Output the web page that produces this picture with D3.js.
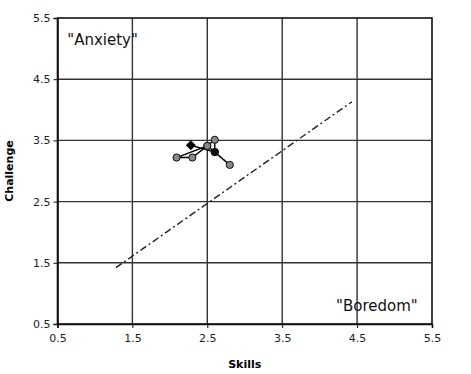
<!DOCTYPE html>
<html>
<head>
<meta charset="utf-8">
<script src="https://cdn.jsdelivr.net/npm/d3@7.9.0/dist/d3.min.js"></script>
<style>
  body { margin: 0; background: #fff; }
  text { font-family: "DejaVu Sans", Verdana, sans-serif; }
</style>
</head>
<body>
<div id="chart"></div>
<script>
const width = 471;
const height = 374;
const margin = { top: 18, right: 39, bottom: 50, left: 57.5 };

const ticks = [0.5, 1.5, 2.5, 3.5, 4.5, 5.5];

// trajectory of the session (skills, challenge)
const pathSkills = [2.28, 2.6, 2.8, 2.5, 2.09, 2.3, 2.5, 2.6, 2.6];
const pathChallenge = [3.42, 3.31, 3.1, 3.41, 3.22, 3.22, 3.41, 3.51, 3.31];

// trend line ends
const trendSkills = [1.28, 4.43];
const trendChallenge = [1.42, 4.13];

const labels = [
  { text: '"Anxiety"', x: 0.63, y: 5.06, anchor: 'start' },
  { text: '"Boredom"', x: 5.31, y: 0.72, anchor: 'end' }
];

const svg = d3.select("#chart")
  .append("svg")
  .attr("width", width)
  .attr("height", height);

const xScale = d3.scaleLinear()
  .domain([0.5, 5.5])
  .range([margin.left, width - margin.right]);

const yScale = d3.scaleLinear()
  .domain([0.5, 5.5])
  .range([height - margin.bottom, margin.top]);

// grid
svg.append("g")
  .selectAll("line.v")
  .data(ticks.slice(1, -1))
  .join("line")
  .attr("x1", d => xScale(d)).attr("x2", d => xScale(d))
  .attr("y1", yScale(5.5)).attr("y2", yScale(0.5))
  .attr("stroke", "#333").attr("stroke-width", 1.4);

svg.append("g")
  .selectAll("line.h")
  .data(ticks.slice(1, -1))
  .join("line")
  .attr("y1", d => yScale(d)).attr("y2", d => yScale(d))
  .attr("x1", xScale(0.5)).attr("x2", xScale(5.5))
  .attr("stroke", "#333").attr("stroke-width", 1.4);

// frame
svg.append("rect")
  .attr("x", xScale(0.5)).attr("y", yScale(5.5))
  .attr("width", xScale(5.5) - xScale(0.5))
  .attr("height", yScale(0.5) - yScale(5.5))
  .attr("fill", "none").attr("stroke", "#111").attr("stroke-width", 1.6);

// axes
const xAxis = svg.append("g")
  .attr("transform", `translate(0, ${yScale(0.5)})`)
  .call(d3.axisBottom(xScale).tickValues(ticks).tickFormat(d3.format(".1f")).tickSize(4).tickPadding(6));

const yAxis = svg.append("g")
  .attr("transform", `translate(${xScale(0.5)}, 0)`)
  .call(d3.axisLeft(yScale).tickValues(ticks).tickFormat(d3.format(".1f")).tickSize(4).tickPadding(3));

[xAxis, yAxis].forEach(a => {
  a.select(".domain").attr("stroke", "#111").attr("stroke-width", 1.6);
  a.selectAll(".tick line").attr("stroke", "#111");
  a.selectAll(".tick text")
    .attr("fill", "#222")
    .style("font-size", "11px")
    .style("font-family", '"DejaVu Sans", Verdana, sans-serif');
});

// axis titles
svg.append("text")
  .attr("x", (xScale(0.5) + xScale(5.5)) / 2)
  .attr("y", 368)
  .attr("text-anchor", "middle")
  .style("font-size", "11px")
  .style("font-weight", "bold")
  .text("Skills");

svg.append("text")
  .attr("transform", `translate(13, ${(yScale(0.5) + yScale(5.5)) / 2}) rotate(-90)`)
  .attr("text-anchor", "middle")
  .style("font-size", "11px")
  .style("font-weight", "bold")
  .text("Challenge");

// region labels
svg.selectAll("text.region")
  .data(labels)
  .join("text")
  .attr("class", "region")
  .attr("x", d => xScale(d.x))
  .attr("y", d => yScale(d.y))
  .attr("text-anchor", d => d.anchor)
  .style("font-size", "15px")
  .attr("fill", "#111")
  .text(d => d.text);

// trend line
svg.append("line")
  .attr("x1", xScale(trendSkills[0])).attr("y1", yScale(trendChallenge[0]))
  .attr("x2", xScale(trendSkills[1])).attr("y2", yScale(trendChallenge[1]))
  .attr("stroke", "#222")
  .attr("stroke-width", 1.4)
  .attr("stroke-dasharray", "7 3 2 3");

// trajectory
const pts = pathSkills.map((s, i) => ({ s, c: pathChallenge[i] }));

svg.append("path")
  .datum(pts)
  .attr("fill", "none")
  .attr("stroke", "#000")
  .attr("stroke-width", 1.4)
  .attr("d", d3.line().x(d => xScale(d.s)).y(d => yScale(d.c)));

svg.selectAll("circle.pt")
  .data(pts.slice(1))
  .join("circle")
  .attr("class", "pt")
  .attr("cx", d => xScale(d.s))
  .attr("cy", d => yScale(d.c))
  .attr("r", 3.6)
  .attr("fill", (d, i) => i === pts.length - 2 ? "#111" : "#888")
  .attr("stroke", "#111")
  .attr("stroke-width", 1);

// start marker
svg.append("path")
  .attr("d", d3.symbol().type(d3.symbolSquare).size(50))
  .attr("transform", `translate(${xScale(pts[0].s)}, ${yScale(pts[0].c)}) rotate(45)`)
  .attr("fill", "#000");
</script>
</body>
</html>
